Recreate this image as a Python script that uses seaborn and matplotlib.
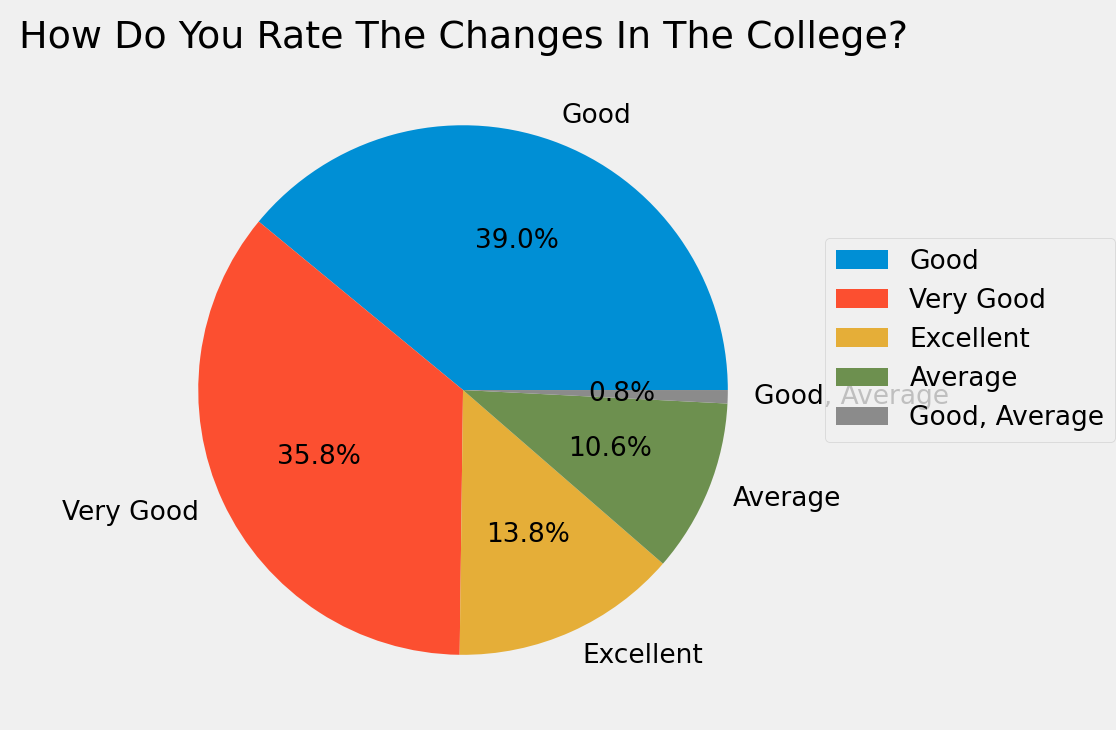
import matplotlib
matplotlib.use("Agg")
import matplotlib.pyplot as plt
import seaborn as sns

# answers to the survey question (counts read from the percentages)
ratings = ["Good", "Very Good", "Excellent", "Average", "Good, Average"]
counts = [96, 88, 34, 26, 2]
slice_colors = ["#008fd5", "#fc4f30", "#e5ae38", "#6d904f", "#8b8b8b"]

plt.style.use("fivethirtyeight")
sns.set_palette(sns.color_palette(slice_colors))
plt.rcParams["font.family"] = ["DejaVu Sans"]
plt.rcParams["font.size"] = 19

fig = plt.figure(figsize=(11.16, 7.3), dpi=100)
ax = fig.add_axes([0.1183, 0.0123, 0.5932, 0.9068])

ax.pie(counts, labels=ratings, colors=sns.color_palette(slice_colors),
       autopct="%1.1f%%", textprops={"fontsize": 19})
ax.set_title("How Do You Rate The Changes In The College?", fontsize=27.4, pad=8)

ax.legend(loc="upper left", bbox_to_anchor=(825 / 1116, 1 - 238 / 730),
          bbox_transform=fig.transFigure, borderaxespad=0, fontsize=19)

fig.savefig("out.png", dpi=100)
plt.close(fig)
